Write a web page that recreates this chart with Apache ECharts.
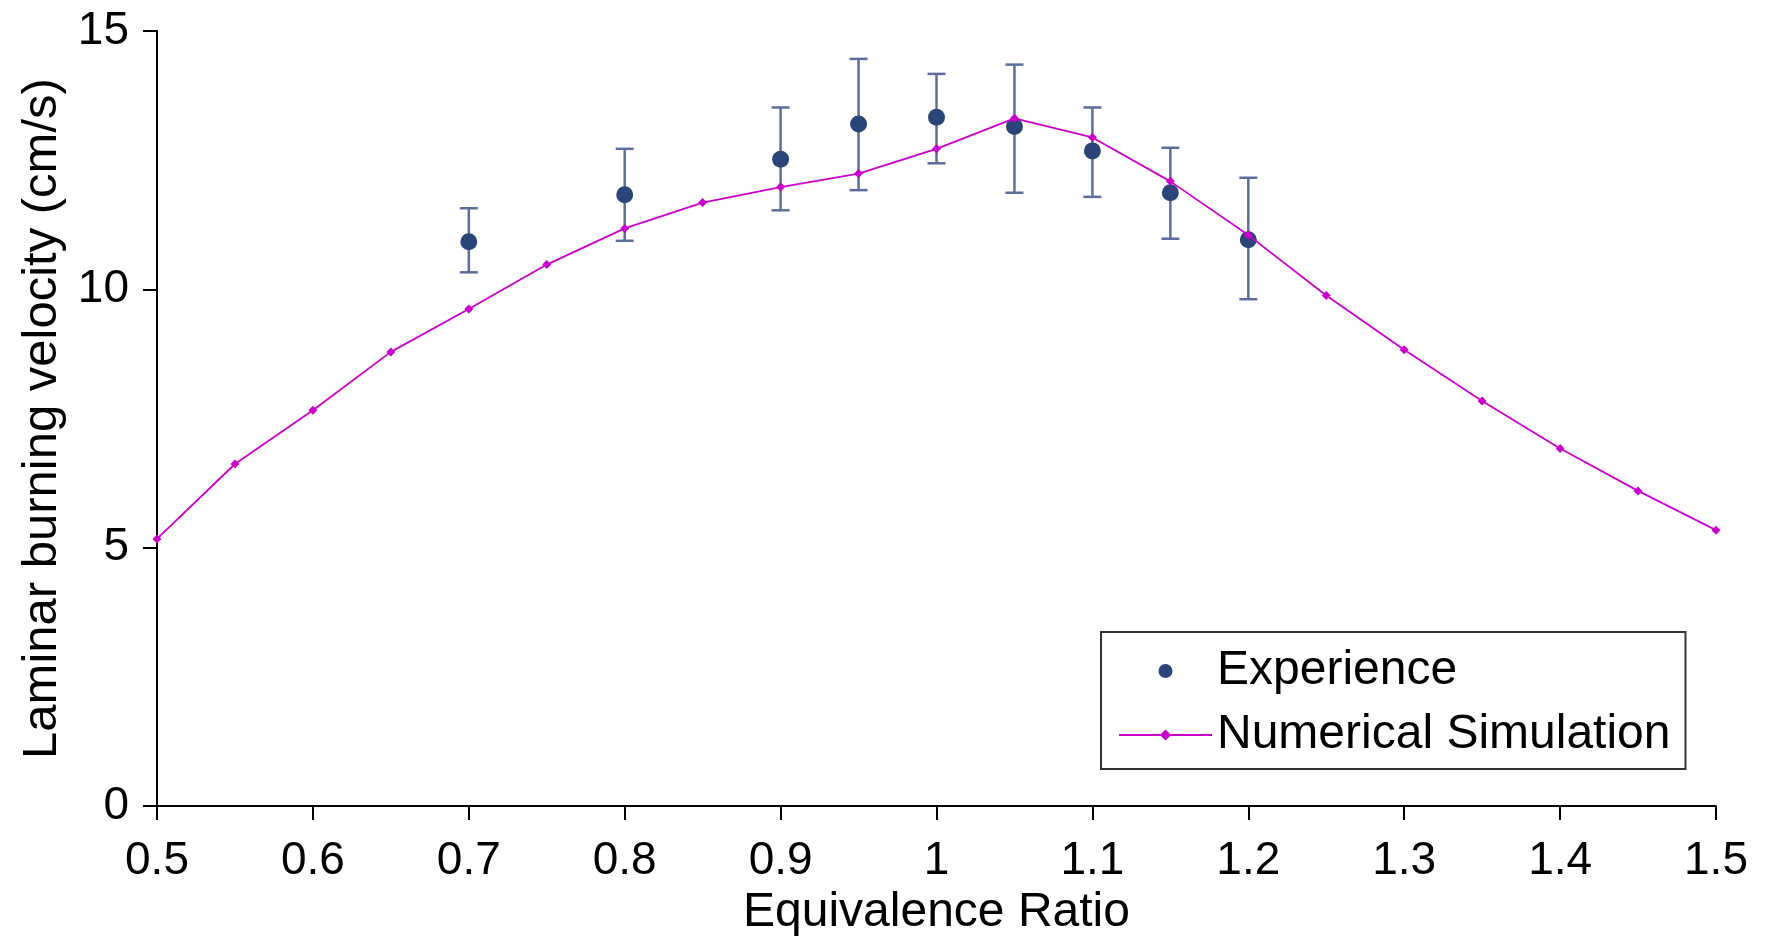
<!DOCTYPE html>
<html>
<head>
<meta charset="utf-8">
<script src="https://cdn.jsdelivr.net/npm/echarts@6/dist/echarts.min.js"></script>
<style>
html,body{margin:0;padding:0;background:#fff;}
#chart{width:1766px;height:942px;}
</style>
</head>
<body>
<div id="chart"></div>
<script>
// ---- data ----
const simX = [0.5,0.55,0.6,0.65,0.7,0.75,0.8,0.85,0.9,0.95,1.0,1.05,1.1,1.15,1.2,1.25,1.3,1.35,1.4,1.45,1.5];
const simY = [5.17,6.62,7.66,8.79,9.62,10.48,11.18,11.68,11.98,12.24,12.72,13.31,12.94,12.09,11.05,9.88,8.83,7.84,6.92,6.10,5.34];
const expX = [0.7,0.8,0.9,0.95,1.0,1.05,1.1,1.15,1.2];
const expY = [10.92,11.83,12.52,13.20,13.33,13.15,12.68,11.87,10.96];
const expLow = [10.33,10.94,11.53,11.92,12.44,11.87,11.79,10.98,9.81];
const expHigh = [11.57,12.72,13.52,14.46,14.17,14.35,13.52,12.74,12.16];
const xTicks = ['0.5','0.6','0.7','0.8','0.9','1','1.1','1.2','1.3','1.4','1.5'];
const yTicks = ['0','5','10','15'];

const FONT = '"Liberation Sans", Arial, sans-serif';
const chart = echarts.init(document.getElementById('chart'));

const simData = simX.map((x,i)=>[x, simY[i]]);
const expData = expX.map((x,i)=>[x, expY[i]]);
const errData = expX.map((x,i)=>[x, expLow[i], expHigh[i]]);

chart.setOption({
  animation:false,
  backgroundColor:'#ffffff',
  grid:{left:157, right:50, top:31, bottom:132, containLabel:false},
  xAxis:{
    type:'value', min:0.5, max:1.5, interval:0.1,
    name:'Equivalence Ratio', nameLocation:'middle', nameGap:80,
    nameTextStyle:{fontFamily:FONT, fontSize:48, color:'#000'},
    axisLine:{show:true, onZero:false, lineStyle:{color:'#000', width:2}},
    axisTick:{show:true, length:14, lineStyle:{color:'#000', width:2}},
    splitLine:{show:false},
    axisLabel:{fontFamily:FONT, fontSize:46, color:'#000', margin:32,
      formatter:function(v){ const s = xTicks.find(t=>Math.abs(parseFloat(t)-v)<1e-6); return s!==undefined?s:''; }}
  },
  yAxis:{
    type:'value', min:0, max:15, interval:5,
    name:'Laminar burning velocity (cm/s)', nameLocation:'middle', nameGap:90,
    nameTextStyle:{fontFamily:FONT, fontSize:49, color:'#000'},
    axisLine:{show:true, lineStyle:{color:'#000', width:2}},
    axisTick:{show:true, length:14, lineStyle:{color:'#000', width:2}},
    splitLine:{show:false},
    axisLabel:{fontFamily:FONT, fontSize:46, color:'#000', margin:28,
      formatter:function(v){ const s = yTicks.find(t=>Math.abs(parseFloat(t)-v)<1e-6); return s!==undefined?s:''; }}
  },
  legend:{
    orient:'vertical', left:1101, top:632,
    padding:[15,15,10,17], itemGap:16,
    itemWidth:93, itemHeight:14,
    borderColor:'#333', borderWidth:2, backgroundColor:'#fff',
    textStyle:{fontFamily:FONT, fontSize:48, color:'#000'},
    data:['Experience','Numerical Simulation']
  },
  series:[
    {
      name:'errorbars', type:'custom', z:2, silent:true,
      data:errData,
      renderItem:function(params, api){
        const x = api.value(0);
        const lo = api.coord([x, api.value(1)]);
        const hi = api.coord([x, api.value(2)]);
        const hw = 9;
        const st = {stroke:'#5b6e9c', lineWidth:2.5};
        return {type:'group', children:[
          {type:'line', shape:{x1:lo[0], y1:lo[1], x2:hi[0], y2:hi[1]}, style:st},
          {type:'line', shape:{x1:hi[0]-hw, y1:hi[1], x2:hi[0]+hw, y2:hi[1]}, style:st},
          {type:'line', shape:{x1:lo[0]-hw, y1:lo[1], x2:lo[0]+hw, y2:lo[1]}, style:st}
        ]};
      }
    },
    {
      name:'Experience', type:'scatter', z:3,
      data:expData, symbol:'circle', symbolSize:17,
      itemStyle:{color:'#2c4579', opacity:1}
    },
    {
      name:'Numerical Simulation', type:'line', z:4,
      data:simData, symbol:'diamond', symbolSize:9, showSymbol:true,
      lineStyle:{color:'#cc00cc', width:1.8},
      itemStyle:{color:'#cc00cc'}
    }
  ]
});
</script>
</body>
</html>
